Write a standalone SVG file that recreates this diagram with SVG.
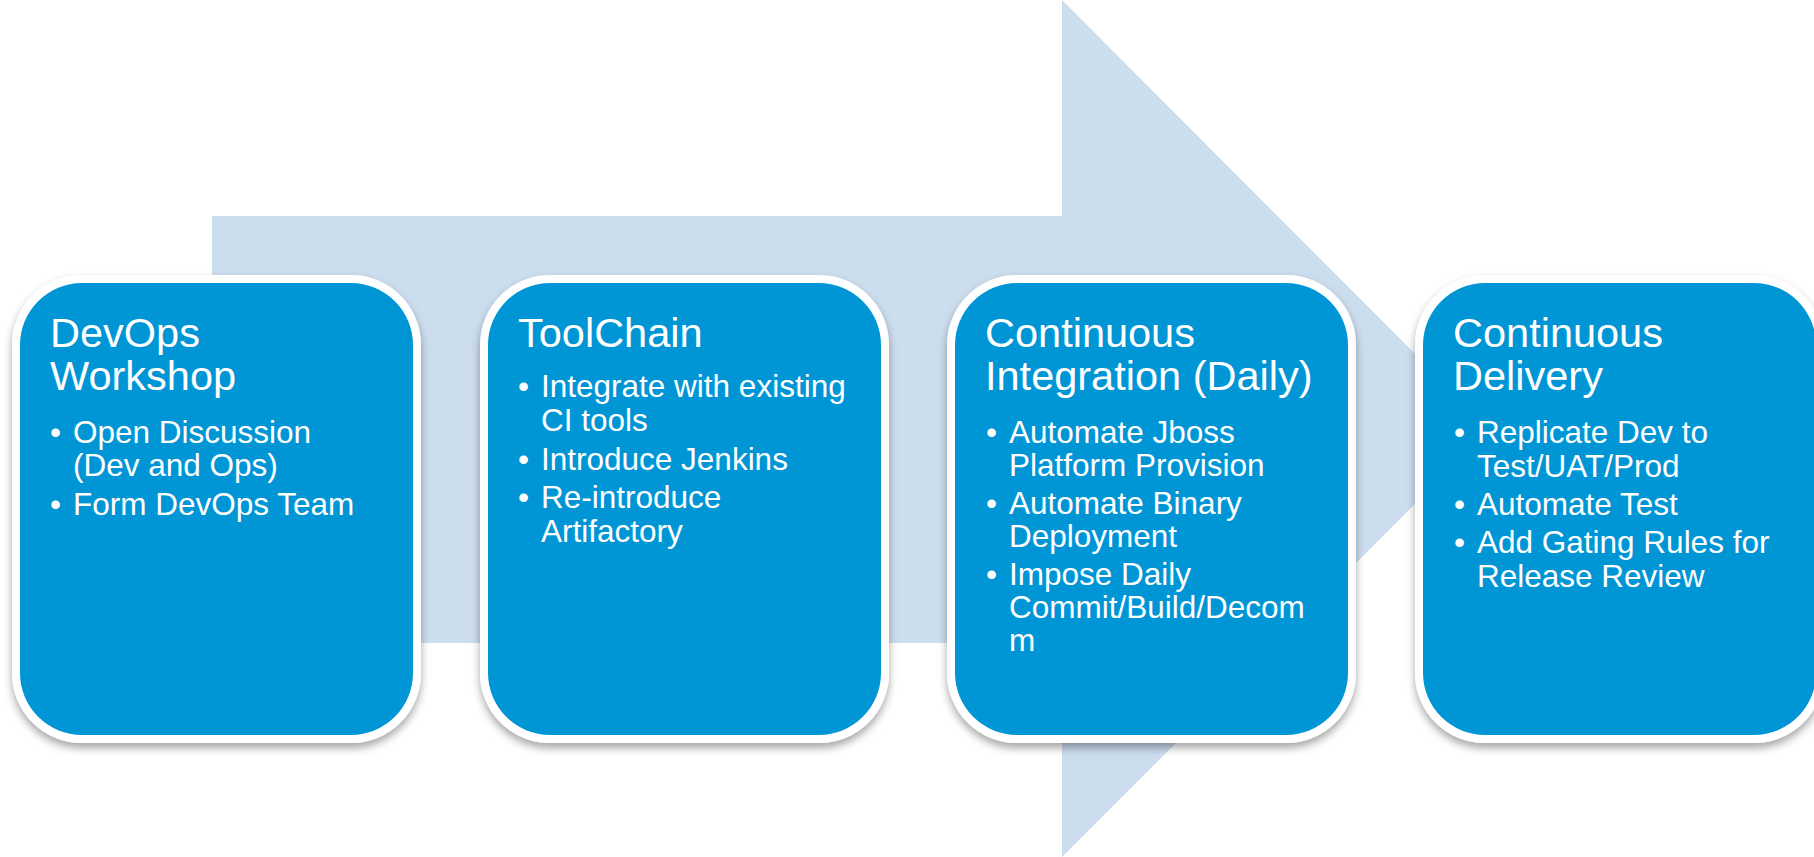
<svg xmlns="http://www.w3.org/2000/svg" width="1814" height="857" viewBox="0 0 1814 857">
<defs>
<style>
.outer{fill:#ffffff;}
.inner{fill:#0096D6;}
.t{font-family:"Liberation Sans",Arial,sans-serif;fill:#ffffff;}
.title{font-size:41.5px;}
.b{font-size:31.5px;}
</style>
<filter id="sh" x="-10%" y="-10%" width="120%" height="125%">
<feDropShadow dx="0" dy="5" stdDeviation="4" flood-color="#000000" flood-opacity="0.35"/>
</filter>
</defs>
<rect width="1814" height="857" fill="#ffffff"/>
<g id="arrow">
<polygon points="212,216 1062,216 1062,0 1490,429 1062,857 1062,643 212,643" fill="#CCDDEE"/>
</g>
<g id="connectors"></g>
<g id="node1">
<rect class="outer" x="12" y="275" width="409" height="468" rx="70" filter="url(#sh)"/>
<rect class="inner" x="20" y="283" width="393" height="452" rx="62"/>
<text class="t title" x="50" y="347">DevOps</text>
<text class="t title" x="50" y="390">Workshop</text>
<text class="t b" x="50" y="443">•</text>
<text class="t b" x="73" y="443">Open Discussion</text>
<text class="t b" x="73" y="476">(Dev and Ops)</text>
<text class="t b" x="50" y="515">•</text>
<text class="t b" x="73" y="515">Form DevOps Team</text>
</g>
<g id="node2">
<rect class="outer" x="480" y="275" width="409" height="468" rx="70" filter="url(#sh)"/>
<rect class="inner" x="488" y="283" width="393" height="452" rx="62"/>
<text class="t title" x="518" y="347">ToolChain</text>
<text class="t b" x="518" y="397">•</text>
<text class="t b" x="541" y="397">Integrate with existing</text>
<text class="t b" x="541" y="431">CI tools</text>
<text class="t b" x="518" y="470">•</text>
<text class="t b" x="541" y="470">Introduce Jenkins</text>
<text class="t b" x="518" y="508">•</text>
<text class="t b" x="541" y="508">Re-introduce</text>
<text class="t b" x="541" y="542">Artifactory</text>
</g>
<g id="node3">
<rect class="outer" x="947" y="275" width="409" height="468" rx="70" filter="url(#sh)"/>
<rect class="inner" x="955" y="283" width="393" height="452" rx="62"/>
<text class="t title" x="985" y="347">Continuous</text>
<text class="t title" x="985" y="390">Integration (Daily)</text>
<text class="t b" x="986" y="443">•</text>
<text class="t b" x="1009" y="443">Automate Jboss</text>
<text class="t b" x="1009" y="476">Platform Provision</text>
<text class="t b" x="986" y="514">•</text>
<text class="t b" x="1009" y="514">Automate Binary</text>
<text class="t b" x="1009" y="547">Deployment</text>
<text class="t b" x="986" y="585">•</text>
<text class="t b" x="1009" y="585">Impose Daily</text>
<text class="t b" x="1009" y="618">Commit/Build/Decom</text>
<text class="t b" x="1009" y="651">m</text>
</g>
<g id="node4">
<rect class="outer" x="1415" y="275" width="409" height="468" rx="70" filter="url(#sh)"/>
<rect class="inner" x="1423" y="283" width="393" height="452" rx="62"/>
<text class="t title" x="1453" y="347">Continuous</text>
<text class="t title" x="1453" y="390">Delivery</text>
<text class="t b" x="1454" y="443">•</text>
<text class="t b" x="1477" y="443">Replicate Dev to</text>
<text class="t b" x="1477" y="477">Test/UAT/Prod</text>
<text class="t b" x="1454" y="515">•</text>
<text class="t b" x="1477" y="515">Automate Test</text>
<text class="t b" x="1454" y="553">•</text>
<text class="t b" x="1477" y="553">Add Gating Rules for</text>
<text class="t b" x="1477" y="587">Release Review</text>
</g>
</svg>
